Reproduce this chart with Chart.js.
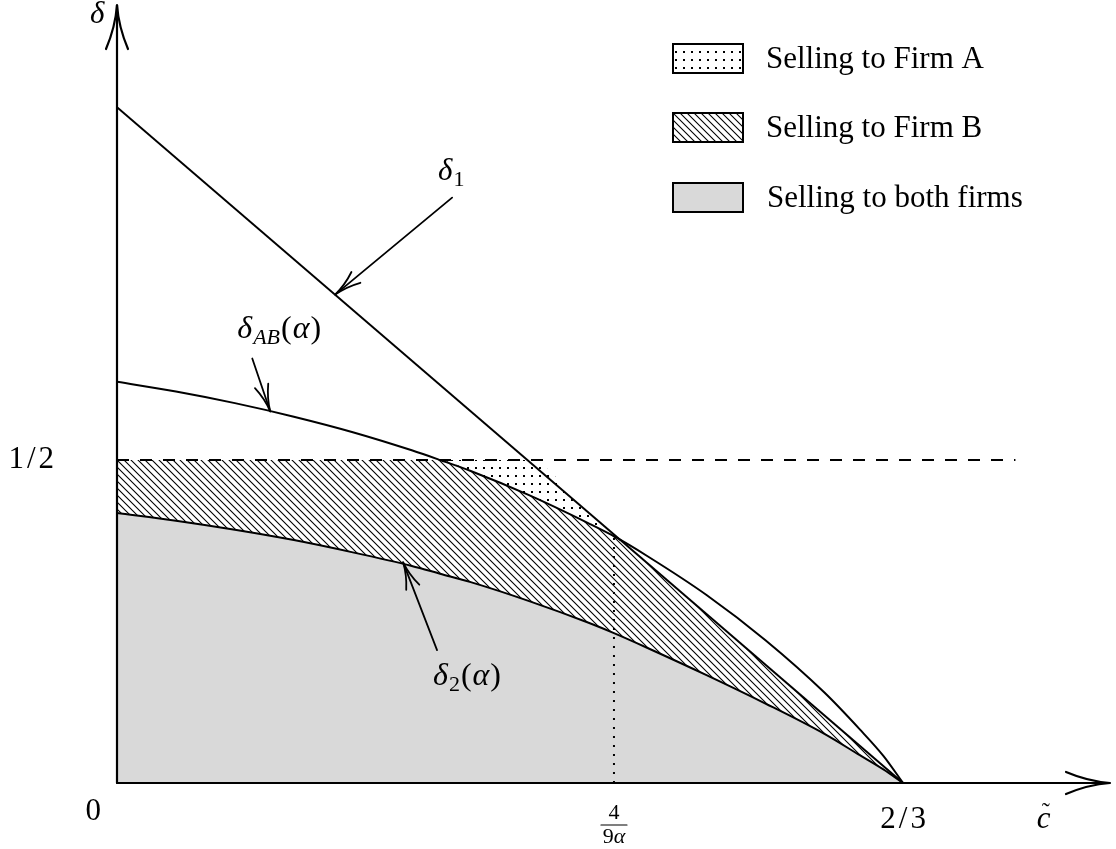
<!DOCTYPE html>
<html>
<head>
<meta charset="utf-8">
<script src="https://cdn.jsdelivr.net/npm/chart.js@4.4.0/dist/chart.umd.min.js"></script>
<style>
html, body { margin: 0; padding: 0; background: #fff; }
#wrap { width: 1116px; height: 849px; }
</style>
</head>
<body>
<div id="wrap"><canvas id="chart-regions" width="1116" height="849"></canvas></div>
<script>
//------------------------------------------ DATA ------------------------------------------
// c~ values where the curves were read
var c_values = [0, 0.05, 0.10, 0.15, 0.20, 0.25, 0.274, 0.30, 0.349, 0.40, 0.4215, 0.45, 0.50, 0.55, 0.60, 0.63, 0.65, 0.6667];
var delta_1  = [1.046, 0.968, 0.889, 0.811, 0.732, 0.654, 0.616, 0.575, 0.500, 0.418, 0.385, 0.339, 0.261, 0.182, 0.105, 0.057, 0.027, 0];
var delta_ab = [0.621, 0.606, 0.588, 0.567, 0.543, 0.515, 0.500, 0.483, 0.446, 0.402, 0.382, 0.351, 0.291, 0.221, 0.140, 0.083, 0.042, 0];
var delta_2  = [0.418, 0.406, 0.392, 0.376, 0.357, 0.336, 0.324, 0.311, 0.282, 0.248, 0.232, 0.209, 0.167, 0.123, 0.076, 0.043, 0.021, 0];

var half_x = [0, 0.762];          // dashed line delta = 1/2
var half_y = [0.5, 0.5];
var c_star = 0.4215;              // 4/(9 alpha)
var c_star_top = 0.383;
var c_end = 0.6667;               // 2/3
var tail_x = [0.6667, 0.77];      // dotted piece on the axis

var legend_labels = ['Selling to Firm A', 'Selling to Firm B', 'Selling to both firms'];

// region boundaries built from the curves
var hatch_top = c_values.map(function (c, i) { return Math.min(delta_ab[i], delta_1[i], 0.5); });
var dots_top = c_values.map(function (c, i) { return Math.max(hatch_top[i], Math.min(delta_1[i], 0.5)); });

function pts(xs, ys) {
    return xs.map(function (x, i) { return { x: x, y: ys[i] }; });
}

//------------------------------------------ PATTERNS ------------------------------------------
function makeHatch() {
    var s = 7;
    var cv = document.createElement('canvas');
    cv.width = s; cv.height = s;
    var g = cv.getContext('2d');
    g.strokeStyle = '#000';
    g.lineWidth = 1.1;
    g.beginPath();
    for (var k = -1; k <= 1; k++) {
        g.moveTo(-2 + k * s, -2);
        g.lineTo(s + 2 + k * s, s + 2);
    }
    g.stroke();
    return g.createPattern(cv, 'repeat');
}

function makeDots() {
    var cv = document.createElement('canvas');
    cv.width = 8; cv.height = 8;
    var g = cv.getContext('2d');
    g.fillStyle = '#000';
    g.fillRect(3, 3, 2, 2);
    return g.createPattern(cv, 'repeat');
}

var hatch = makeHatch();
var dots = makeDots();
var gray = '#d9d9d9';

//------------------------------------------ DRAW HELPERS ------------------------------------------
var SERIF = '"Liberation Serif", "DejaVu Serif", serif';

function arrowHead(ctx, tx, ty, ux, uy, L, W) {
    var nx = -uy, ny = ux;
    var bx = tx - ux * L, by = ty - uy * L;
    ctx.beginPath();
    ctx.moveTo(bx + nx * W, by + ny * W);
    ctx.quadraticCurveTo(tx - ux * L * 0.5 + nx * W * 0.15, ty - uy * L * 0.5 + ny * W * 0.15, tx, ty);
    ctx.quadraticCurveTo(tx - ux * L * 0.5 - nx * W * 0.15, ty - uy * L * 0.5 - ny * W * 0.15, bx - nx * W, by - ny * W);
    ctx.stroke();
}

function arrow(ctx, x0, y0, x1, y1, L, W) {
    ctx.beginPath();
    ctx.moveTo(x0, y0);
    ctx.lineTo(x1, y1);
    ctx.stroke();
    var d = Math.hypot(x1 - x0, y1 - y0);
    arrowHead(ctx, x1, y1, (x1 - x0) / d, (y1 - y0) / d, L, W);
}

// parts: [text, italic, size, dy]
function drawMath(ctx, parts, x, y) {
    ctx.textAlign = 'left';
    ctx.textBaseline = 'alphabetic';
    parts.forEach(function (p) {
        ctx.font = (p[1] ? 'italic ' : '') + p[2] + 'px ' + SERIF;
        ctx.fillText(p[0], x, y + (p[3] || 0));
        x += ctx.measureText(p[0]).width + 1;
    });
}

function spaced(ctx, text, x, y, gap, align) {
    var w = 0;
    var ws = text.split('').map(function (ch) { var m = ctx.measureText(ch).width; w += m; return m; });
    w += gap * (text.length - 1);
    var sx = align === 'right' ? x - w : (align === 'center' ? x - w / 2 : x);
    ctx.textAlign = 'left';
    text.split('').forEach(function (ch, i) {
        ctx.fillText(ch, sx, y);
        sx += ws[i] + gap;
    });
}

//------------------------------------------ OVERLAY PLUGIN ------------------------------------------
var overlay = {
    id: 'overlay',
    afterDatasetsDraw: function (chart) {
        var ctx = chart.ctx;
        var xs = chart.scales.x, ys = chart.scales.y;
        var x0 = xs.getPixelForValue(0), y0 = ys.getPixelForValue(0);
        var xr = chart.chartArea.right, yt = chart.chartArea.top;

        ctx.save();
        ctx.strokeStyle = '#000';
        ctx.fillStyle = '#000';
        ctx.lineCap = 'round';

        // axes
        ctx.lineWidth = 2.2;
        arrow(ctx, x0, y0, xr - 2, y0, 44, 11);
        arrow(ctx, x0, y0, x0, yt, 44, 11);

        // annotation arrows
        ctx.lineWidth = 1.8;
        var notes = [
            { c: 0.185, d: 0.756, tail: [117, -97], label: [-14, -18],
              parts: [['δ', true, 31], ['1', false, 22, 6]] },
            { c: 0.130, d: 0.575, tail: [-18, -53], label: [-15, -21],
              parts: [['δ', true, 32], ['AB', true, 22, 6], ['(', false, 32], ['α', true, 32], [')', false, 32]] },
            { c: 0.2426, d: 0.342, tail: [34, 88], label: [-4, 35],
              parts: [['δ', true, 32], ['2', false, 22, 6], ['(', false, 32], ['α', true, 32], [')', false, 32]] }
        ];
        notes.forEach(function (n) {
            var tx = xs.getPixelForValue(n.c), ty = ys.getPixelForValue(n.d);
            var sx = tx + n.tail[0], sy = ty + n.tail[1];
            arrow(ctx, sx, sy, tx, ty, 27, 7);
            drawMath(ctx, n.parts, sx + n.label[0], sy + n.label[1]);
        });

        // axis labels
        drawMath(ctx, [['δ', true, 31]], x0 - 27, yt + 18);
        var cx = xs.getPixelForValue(0.780);
        drawMath(ctx, [['c', true, 31]], cx, y0 + 45);
        ctx.font = '24px ' + SERIF;
        ctx.textAlign = 'center';
        ctx.fillText('\u02DC', cx + 9, y0 + 36);

        // tick labels
        ctx.font = '31px ' + SERIF;
        ctx.textAlign = 'right';
        ctx.fillText('0', x0 - 16, y0 + 37);
        spaced(ctx, '1/2', x0 - 63, ys.getPixelForValue(0.5) + 8, 3, 'right');
        spaced(ctx, '2/3', xs.getPixelForValue(c_end), y0 + 45, 3, 'center');

        // 4/(9 alpha) fraction
        var fx = xs.getPixelForValue(c_star);
        ctx.font = '22px ' + SERIF;
        ctx.textAlign = 'center';
        ctx.fillText('4', fx, y0 + 36);
        ctx.lineWidth = 1.2;
        ctx.beginPath();
        ctx.moveTo(fx - 13, y0 + 42);
        ctx.lineTo(fx + 13, y0 + 42);
        ctx.stroke();
        var w9 = ctx.measureText('9').width;
        ctx.font = 'italic 22px ' + SERIF;
        var wa = ctx.measureText('α').width;
        ctx.textAlign = 'left';
        ctx.font = '22px ' + SERIF;
        ctx.fillText('9', fx - (w9 + wa) / 2, y0 + 60);
        ctx.font = 'italic 22px ' + SERIF;
        ctx.fillText('α', fx - (w9 + wa) / 2 + w9, y0 + 60);

        // legend
        var fills = [dots, hatch, gray];
        var boxTop = [44, 113, 183];
        fills.forEach(function (f, i) {
            ctx.fillStyle = f;
            ctx.fillRect(673, boxTop[i], 70, 29);
            ctx.lineWidth = 2;
            ctx.strokeStyle = '#000';
            ctx.strokeRect(673, boxTop[i], 70, 29);
            ctx.fillStyle = '#000';
            ctx.font = '31px ' + SERIF;
            ctx.textAlign = 'left';
            ctx.fillText(legend_labels[i], i === 2 ? 767 : 766, boxTop[i] + 24);
        });
        ctx.restore();
    }
};

//------------------------------------------ CHART ------------------------------------------
var line = { borderColor: '#000', borderWidth: 2, pointRadius: 0, cubicInterpolationMode: 'monotone' };

var chart_regions = new Chart(document.getElementById('chart-regions').getContext('2d'), {
    type: 'line',
    data: {
        datasets: [
            Object.assign({ label: 'delta2', data: pts(c_values, delta_2), fill: 'origin', backgroundColor: gray }, line),
            Object.assign({}, line, { label: 'firmB', data: pts(c_values, hatch_top), fill: '-1', backgroundColor: hatch, borderWidth: 0 }),
            Object.assign({}, line, { label: 'firmA', data: pts(c_values, dots_top), fill: '-1', backgroundColor: dots, borderWidth: 0 }),
            Object.assign({ label: 'deltaAB', data: pts(c_values, delta_ab), fill: false }, line),
            Object.assign({}, line, { label: 'delta1', data: pts([0, c_end], [delta_1[0], 0]), fill: false, cubicInterpolationMode: 'default' }),
            { label: 'half', data: pts(half_x, half_y), fill: false, borderColor: '#000', borderWidth: 2, borderDash: [12, 11], pointRadius: 0 },
            { label: 'cstar', data: pts([c_star, c_star], [0, c_star_top]), fill: false, borderColor: '#000', borderWidth: 2, borderDash: [2, 7], pointRadius: 0 },
            { label: 'tail', data: pts(tail_x, [0, 0]), fill: false, borderColor: '#000', borderWidth: 2, borderDash: [2, 5], pointRadius: 0 }
        ]
    },
    options: {
        responsive: false,
        animation: false,
        devicePixelRatio: 1,
        layout: { padding: { left: 117, right: 4, top: 5, bottom: 66 } },
        scales: {
            x: { type: 'linear', min: 0, max: 0.8439, display: false },
            y: { type: 'linear', min: 0, max: 1.2043, display: false }
        },
        plugins: {
            legend: { display: false },
            tooltip: { enabled: false },
            filler: { drawTime: 'beforeDatasetsDraw' }
        }
    },
    plugins: [overlay]
});
</script>
</body>
</html>
